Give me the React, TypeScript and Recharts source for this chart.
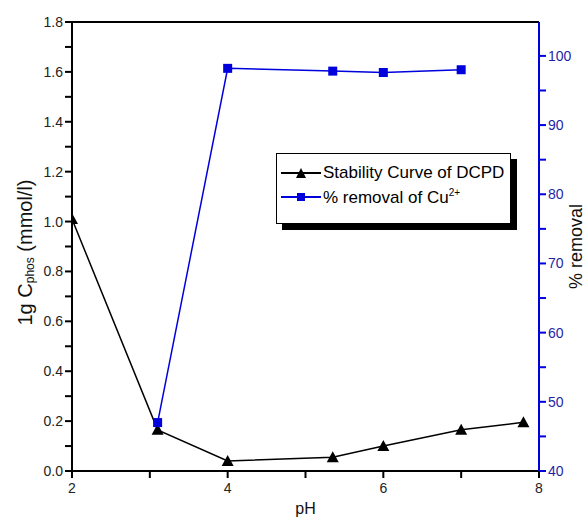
import React from 'react';
import {
  ComposedChart,
  Line,
  XAxis,
  YAxis,
  Legend,
  ReferenceLine,
} from 'recharts';

// ─── Data ─────────────────────────────────────────────────────────────────────

const PH_DCPD = [2, 3.1, 4, 5.35, 6, 7, 7.8];
const LG_C_PHOS = [1.01, 0.165, 0.04, 0.055, 0.1, 0.165, 0.195];

const PH_CU = [3.1, 4, 5.35, 6, 7];
const REMOVAL_CU = [47.0, 98.2, 97.8, 97.6, 98.0];

const X_TICKS = [2, 3, 4, 5, 6, 7, 8];
const X_LABELS = [2, 4, 6, 8];
const LEFT_TICKS = [0, 0.1, 0.2, 0.3, 0.4, 0.5, 0.6, 0.7, 0.8, 0.9, 1.0, 1.1, 1.2, 1.3, 1.4, 1.5, 1.6, 1.7, 1.8];
const RIGHT_TICKS = [40, 45, 50, 55, 60, 65, 70, 75, 80, 85, 90, 95, 100];

// ─── Styling ──────────────────────────────────────────────────────────────────

const FONT = '"Liberation Sans", Arial, sans-serif';
const BLACK = '#000000';
const BLUE = '#0000dd';
const BLUE_TEXT = '#1f1fa8';

const dcpdData = PH_DCPD.map((x, i) => ({ x, y: LG_C_PHOS[i] }));
const cuData = PH_CU.map((x, i) => ({ x, y: REMOVAL_CU[i] }));

// ─── Ticks: short outward mark plus a label on major values ──────────────────

function XTick({ x, y, payload }: any) {
  const major = X_LABELS.includes(payload.value);
  return (
    <g>
      <rect x={x - 1} y={y} width={2} height={7} fill={BLACK} />
      {major && (
        <text x={x} y={y + 22} textAnchor="middle" fontFamily={FONT} fontSize={14} fill="#222">
          {payload.value}
        </text>
      )}
    </g>
  );
}

function LeftTick({ x, y, payload }: any) {
  const major = Math.round(payload.value * 10) % 2 === 0;
  return (
    <g>
      <rect x={x - 7} y={y - 1} width={7} height={2} fill={BLACK} />
      {major && (
        <text x={x - 9} y={y + 5} textAnchor="end" fontFamily={FONT} fontSize={14} fill="#222">
          {payload.value.toFixed(1)}
        </text>
      )}
    </g>
  );
}

function RightTick({ x, y, payload }: any) {
  const major = payload.value % 10 === 0;
  return (
    <g>
      <rect x={x} y={y - 1} width={7} height={2} fill={BLUE} />
      {major && (
        <text x={x + 9} y={y + 5} textAnchor="start" fontFamily={FONT} fontSize={14} fill={BLUE_TEXT}>
          {payload.value}
        </text>
      )}
    </g>
  );
}

// ─── Markers ──────────────────────────────────────────────────────────────────

function TriangleDot({ cx, cy }: any) {
  if (cx == null || cy == null) return null;
  const s = 6;
  return <polygon points={`${cx},${cy - s} ${cx - s},${cy + s - 1} ${cx + s},${cy + s - 1}`} fill={BLACK} />;
}

function SquareDot({ cx, cy }: any) {
  if (cx == null || cy == null) return null;
  return <rect x={cx - 4.5} y={cy - 4.5} width={9} height={9} fill={BLUE} />;
}

// ─── Legend ───────────────────────────────────────────────────────────────────

function LegendBox() {
  const row: React.CSSProperties = { display: 'flex', alignItems: 'center', height: 24 };
  return (
    <div
      style={{
        background: '#fff',
        border: '1px solid #000',
        boxShadow: '6px 6px 0 #000',
        padding: '7px 6px 14px 4px',
        fontFamily: FONT,
        fontSize: 17,
        color: '#000',
        whiteSpace: 'nowrap',
      }}
    >
      <div style={row}>
        <svg width={42} height={14}>
          <line x1={0} x2={40} y1={7} y2={7} stroke={BLACK} strokeWidth={2} />
          <polygon points="20,2 15,12 25,12" fill={BLACK} />
        </svg>
        <span>Stability Curve of DCPD</span>
      </div>
      <div style={row}>
        <svg width={42} height={14}>
          <line x1={0} x2={40} y1={7} y2={7} stroke={BLUE} strokeWidth={2} />
          <rect x={16} y={3} width={8} height={8} fill={BLUE} />
        </svg>
        <span>
          % removal of Cu<sup style={{ fontSize: 10 }}>2+</sup>
        </span>
      </div>
    </div>
  );
}

// ─── Axis titles ──────────────────────────────────────────────────────────────

function LeftTitle({ viewBox }: any) {
  const cx = 25;
  const cy = viewBox.y + viewBox.height / 2 + 6;
  return (
    <text
      x={cx}
      y={cy}
      transform={`rotate(-90 ${cx} ${cy})`}
      textAnchor="middle"
      dominantBaseline="central"
      fontFamily={FONT}
      fontSize={20}
      fill="#111"
    >
      1g C
      <tspan fontSize={12} dy={5}>phos</tspan>
      <tspan dy={-5}> (mmol/l)</tspan>
    </text>
  );
}

function RightTitle({ viewBox }: any) {
  const cx = 576;
  const cy = viewBox.y + viewBox.height / 2;
  return (
    <text
      x={cx}
      y={cy}
      transform={`rotate(-90 ${cx} ${cy})`}
      textAnchor="middle"
      dominantBaseline="central"
      fontFamily={FONT}
      fontSize={18}
      fill="#111"
    >
      % removal
    </text>
  );
}

function BottomTitle({ viewBox }: any) {
  return (
    <text
      x={viewBox.x + viewBox.width / 2}
      y={514}
      textAnchor="middle"
      fontFamily={FONT}
      fontSize={16}
      fill="#111"
    >
      pH
    </text>
  );
}

// ─── Component ────────────────────────────────────────────────────────────────

export default function App() {
  return (
    <div style={{ position: 'absolute', left: 0, top: 0, width: 586, height: 520, background: '#fff' }}>
      <ComposedChart width={586} height={520} margin={{ top: 22, right: 0, bottom: 0, left: 0 }}>
        <XAxis
          dataKey="x"
          type="number"
          domain={[2, 8]}
          ticks={X_TICKS}
          interval={0}
          allowDataOverflow
          height={49}
          tickSize={0}
          tickMargin={0}
          tickLine={false}
          tick={<XTick />}
          axisLine={{ stroke: BLACK, strokeWidth: 2 }}
          label={{ content: <BottomTitle /> }}
        />
        <YAxis
          yAxisId="left"
          type="number"
          domain={[0, 1.8]}
          ticks={LEFT_TICKS}
          interval={0}
          allowDataOverflow
          width={72}
          tickSize={0}
          tickMargin={0}
          tickLine={false}
          tick={<LeftTick />}
          axisLine={{ stroke: BLACK, strokeWidth: 2 }}
          label={{ content: <LeftTitle /> }}
        />
        <YAxis
          yAxisId="right"
          orientation="right"
          type="number"
          domain={[40, 104.9]}
          ticks={RIGHT_TICKS}
          interval={0}
          allowDataOverflow
          width={47}
          tickSize={0}
          tickMargin={0}
          tickLine={false}
          tick={<RightTick />}
          axisLine={{ stroke: BLUE, strokeWidth: 2 }}
          label={{ content: <RightTitle /> }}
        />
        <ReferenceLine yAxisId="left" y={1.8} stroke={BLACK} strokeWidth={2} />
        <Legend
          layout="horizontal"
          align="center"
          verticalAlign="middle"
          content={<LegendBox />}
          wrapperStyle={{ left: 276, top: 153, width: 'auto' }}
        />
        <Line
          yAxisId="left"
          data={dcpdData}
          dataKey="y"
          name="Stability Curve of DCPD"
          stroke={BLACK}
          strokeWidth={1.5}
          dot={<TriangleDot />}
          activeDot={false}
          isAnimationActive={false}
        />
        <Line
          yAxisId="right"
          data={cuData}
          dataKey="y"
          name="% removal of Cu2+"
          stroke={BLUE}
          strokeWidth={1.5}
          dot={<SquareDot />}
          activeDot={false}
          isAnimationActive={false}
        />
      </ComposedChart>
    </div>
  );
}
